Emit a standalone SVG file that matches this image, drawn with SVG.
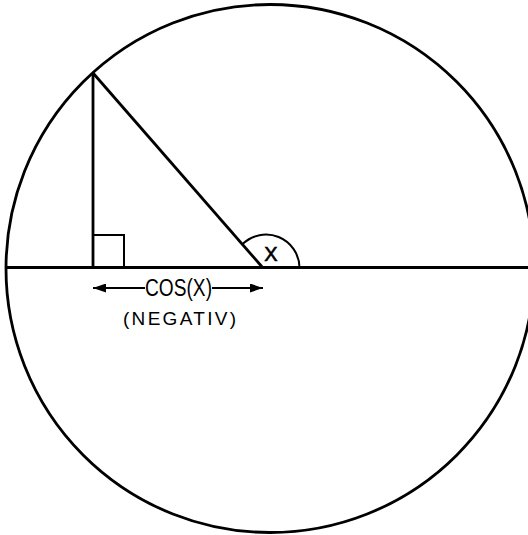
<svg xmlns="http://www.w3.org/2000/svg" width="528" height="535" viewBox="0 0 528 535">
<style>
.ln{fill:none;stroke:#000;stroke-width:2.8;stroke-linecap:butt}
.thin{fill:none;stroke:#000;stroke-width:2}
.lbl{font-family:"Liberation Sans",Arial,sans-serif;fill:#000}
</style>
<defs>
<marker id="ah" viewBox="0 0 13 9" refX="13" refY="4.5" markerWidth="13" markerHeight="9" markerUnits="userSpaceOnUse" orient="auto">
<path d="M0,0 L13,4.5 L0,9 Z" fill="#000"/>
</marker>
</defs>
<rect width="528" height="535" fill="#fff"/>
<g id="circle"><circle cx="270" cy="268.5" r="264" class="ln" stroke-width="2.5"/></g>
<g id="axis"><line x1="6" y1="267.5" x2="528" y2="267.5" class="ln"/></g>
<g id="triangle">
<line x1="93" y1="73" x2="93" y2="267.5" class="ln"/>
<line x1="93" y1="73" x2="263" y2="268" class="ln"/>
<path d="M93,235 H124 V267.5" class="thin"/>
</g>
<g id="angle">
<path d="M242.4,244.3 A33.5,33.5 0 0 1 299.5,267.5" class="thin"/>
<text x="271" y="261" class="lbl" font-size="20" text-anchor="middle" stroke="#000" stroke-width="0.6">X</text>
</g>
<g id="connectors">
<line x1="145" y1="288" x2="93" y2="288" class="thin" marker-end="url(#ah)"/>
<line x1="212" y1="288" x2="263" y2="288" class="thin" marker-end="url(#ah)"/>
</g>
<g id="labels">
<text x="178.5" y="296" class="lbl" font-size="23" text-anchor="middle" textLength="67" lengthAdjust="spacingAndGlyphs">COS(X)</text>
<text x="179.5" y="325" class="lbl" font-size="19" text-anchor="middle" textLength="113" lengthAdjust="spacing">(NEGATIV)</text>
</g>
</svg>
